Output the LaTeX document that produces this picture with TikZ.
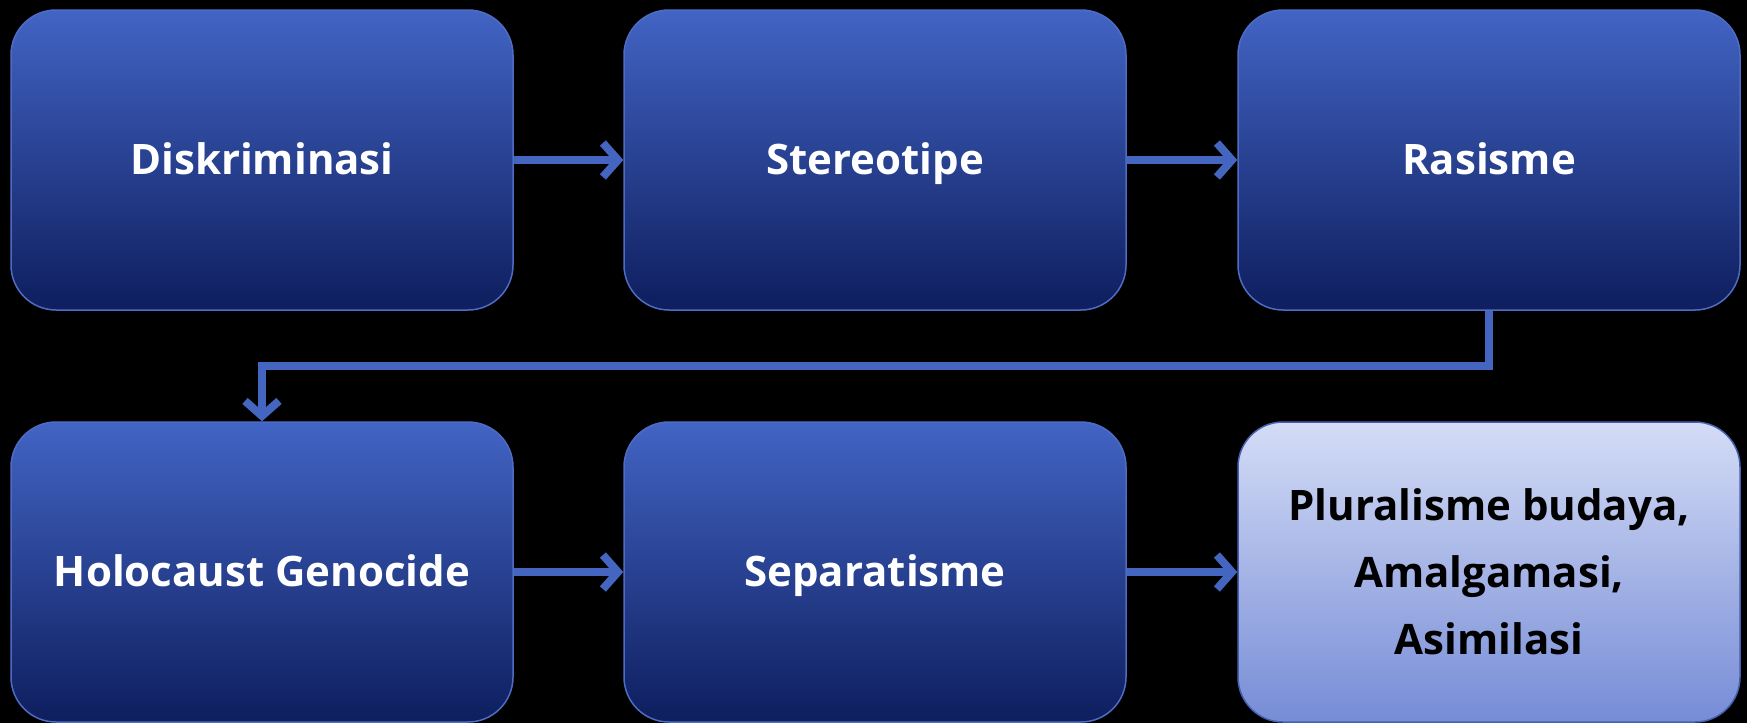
\documentclass[tikz,border=0pt]{standalone}
\usepackage{fontspec}
\setmainfont{Open Sans}
\usetikzlibrary{arrows.meta}
\definecolor{boxtop}{RGB}{66,100,196}
\definecolor{boxmid}{RGB}{38,68,160}
\definecolor{boxbot}{RGB}{14,30,94}
\definecolor{boxedge}{RGB}{78,108,196}
\definecolor{arrowc}{RGB}{68,102,192}
\definecolor{lighttop}{RGB}{212,220,246}
\definecolor{lightmid}{RGB}{166,182,232}
\definecolor{lightbot}{RGB}{118,140,214}
\tikzset{
  basebox/.style={rectangle, rounded corners=45pt, minimum width=502pt, minimum height=300pt,
    line width=1.5pt, align=center, font=\fontsize{42}{67}\selectfont\bfseries},
  stepbox/.style={basebox, draw=boxedge, top color=boxtop, middle color=boxmid, bottom color=boxbot,
    text=white, text height=30pt, text depth=2pt},
  lightbox/.style={basebox, draw=boxedge!90!black, top color=lighttop, middle color=lightmid,
    bottom color=lightbot, text=black},
  flow/.style={draw=arrowc, line width=8pt, -{Straight Barb[length=15pt,width=34pt]}}
}
\begin{document}
\begin{tikzpicture}[x=1pt,y=1pt]
\fill[black] (0,0) rectangle (1747,-723);
\useasboundingbox (0,0) rectangle (1747,-723);
\node[stepbox] (b1) at (262,-160) {Diskriminasi};
\node[stepbox] (b2) at (875,-160) {Stereotipe};
\node[stepbox] (b3) at (1489,-160) {Rasisme};
\node[stepbox] (b4) at (262,-572) {Holocaust Genocide};
\node[stepbox] (b5) at (875,-572) {Separatisme};
\node[lightbox] (b6) at (1489,-572) {Pluralisme budaya,\\Amalgamasi,\\Asimilasi};
\draw[flow] (b1) -- (b2);
\draw[flow] (b2) -- (b3);
\draw[flow] (b3.south) -- ++(0,-55) -| (b4.north);
\draw[flow] (b4) -- (b5);
\draw[flow] (b5) -- (b6);
\end{tikzpicture}
\end{document}
